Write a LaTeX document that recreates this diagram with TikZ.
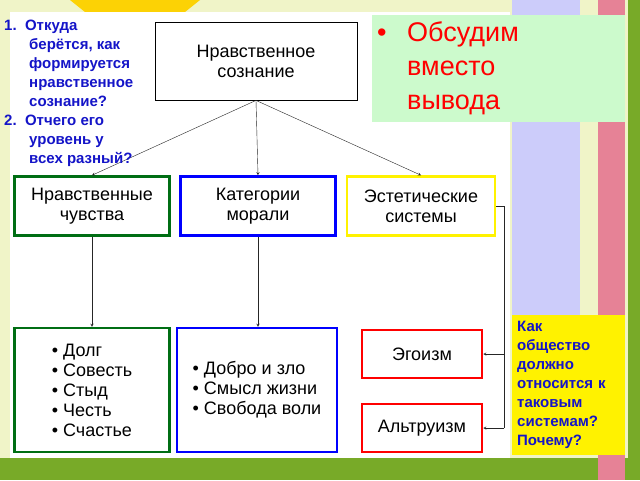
\documentclass[tikz,border=0pt]{standalone}
\usepackage{fontspec}
\setmainfont{Liberation Sans}
\usetikzlibrary{positioning}
\definecolor{bgyellow}{RGB}{240,244,200}
\definecolor{bandgreen}{RGB}{120,170,40}
\definecolor{lavender}{RGB}{204,204,250}
\definecolor{pinkstrip}{RGB}{230,130,150}
\definecolor{panelgreen}{RGB}{204,250,204}
\definecolor{qblue}{RGB}{20,20,200}
\definecolor{darkgreen}{RGB}{0,110,20}
\tikzset{
  box/.style={draw, thick, fill=white, align=center, font=\fontsize{18}{20}\selectfont, inner sep=0pt},
  shadowed/.style={box, line width=2.5pt},
  arr/.style={->, >=stealth, gray!30!black}
}
\begin{document}
\begin{tikzpicture}[x=1pt, y=-1pt]
    \useasboundingbox (0,0) rectangle (640,480);
    % background
    \fill[bgyellow] (0,0) rectangle (640,480);
    \fill[bandgreen] (0,458) rectangle (640,480);
    \fill[yellow!70!orange] (70,0) -- (200,0) -- (185,12) -- (85,12) -- cycle;
    \fill[lavender] (512,0) rectangle (580,315);
    \fill[pinkstrip] (598,0) rectangle (625,480);
    \fill[bandgreen] (628,0) rectangle (640,480);
    \fill[white] (10,12) rectangle (510,458);

    % top box
    \node[box, minimum width=202pt, minimum height=78pt] (nc) at (256,61) {Нравственное\\сознание};

    % second row
    \node[shadowed, draw=darkgreen, minimum width=155pt, minimum height=59pt] (nch) at (92,206) {Нравственные\\чувства};
    \node[shadowed, draw=blue, minimum width=155pt, minimum height=59pt] (km) at (258,206) {Категории\\морали};
    \node[shadowed, draw=yellow, minimum width=148pt, minimum height=59pt] (es) at (421,206) {Эстетические\\системы};

    % third row
    \node[shadowed, draw=darkgreen, minimum width=155pt, minimum height=124pt, align=left] (ch) at (92,390)
      {• Долг\\• Совесть\\• Стыд\\• Честь\\• Счастье};
    \node[shadowed, draw=blue, minimum width=160pt, minimum height=124pt, align=left] (kt) at (257,390)
      {• Добро и зло\\• Смысл жизни\\• Свобода воли};
    \node[shadowed, draw=red, minimum width=120pt, minimum height=48pt] (eg) at (422,354) {Эгоизм};
    \node[shadowed, draw=red, minimum width=120pt, minimum height=48pt] (al) at (422,428) {Альтруизм};

    % connectors
    \draw[arr] (nc.south) -- (nch.north);
    \draw[arr] (nc.south) -- (km.north);
    \draw[arr] (nc.south) -- (es.north);
    \draw[arr] (nch.south) -- (ch.north);
    \draw[arr] (km.south) -- (ch.north -| km.south);
    \coordinate (rt) at ([xshift=8pt]es.east);
    \draw[gray!30!black] (es.east) -- (rt) -- (rt |- al.east);
    \draw[arr] (rt |- eg.east) -- (eg.east);
    \draw[arr] (rt |- al.east) -- (al.east);

    % side panels
    \node[fill=panelgreen, minimum width=253pt, minimum height=107pt, text=red, anchor=north west,
      align=left, font=\fontsize{27}{34}\selectfont, text width=243pt, inner sep=5pt] (obs) at (372,15)
      {\makebox[30pt][l]{\textcolor{red}{•}}Обсудим\\\hspace*{30pt}вместо\\\hspace*{30pt}вывода};
    \node[fill=yellow, minimum width=113pt, minimum height=140pt, anchor=north west, inner sep=5pt,
      text=qblue, align=left, font=\bfseries\fontsize{15}{19}\selectfont, text width=103pt] (q) at (512,315)
      {Как\\общество\\должно\\относится к\\таковым\\системам?\\Почему?};
    \node[anchor=north west, text=qblue, align=left, inner sep=0pt, font=\bfseries\fontsize{15}{19}\selectfont] (qs) at (4,20)
      {1.\ \ Откуда\\\hspace*{25pt}берётся, как\\\hspace*{25pt}формируется\\\hspace*{25pt}нравственное\\\hspace*{25pt}сознание?\\2.\ \ Отчего его\\\hspace*{25pt}уровень у\\\hspace*{25pt}всех разный?};
\end{tikzpicture}
\end{document}
